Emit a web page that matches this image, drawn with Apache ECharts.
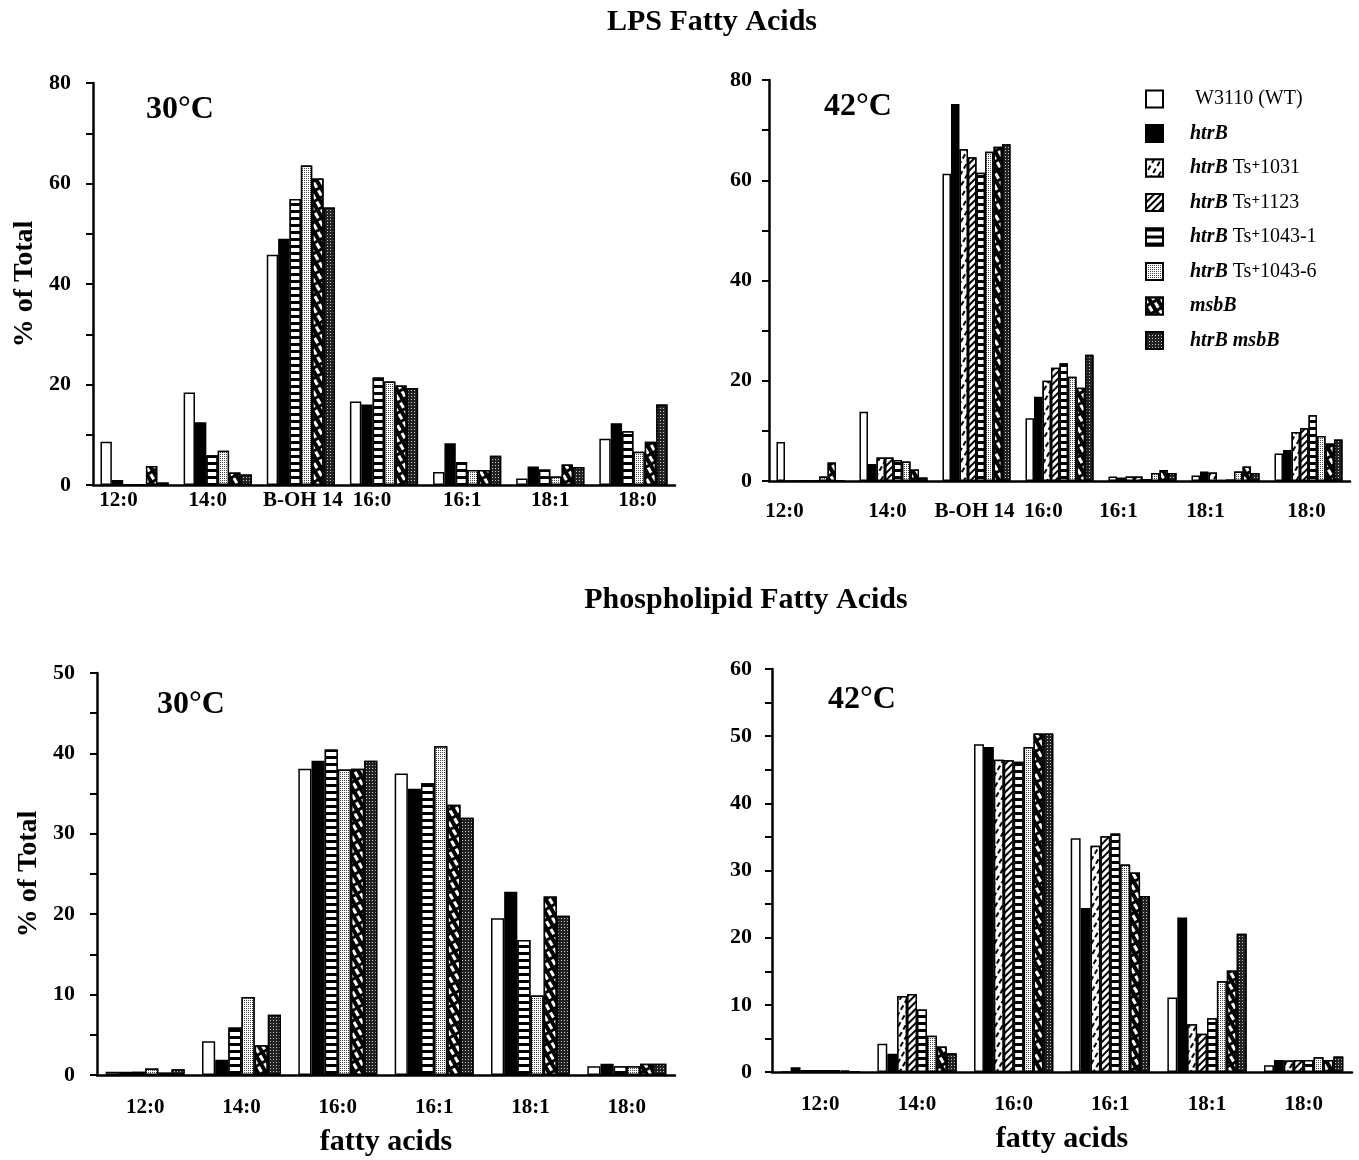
<!DOCTYPE html>
<html>
<head>
<meta charset="utf-8">
<title>LPS and Phospholipid Fatty Acids</title>
<script src="https://cdn.jsdelivr.net/npm/echarts@6/dist/echarts.min.js"></script>
<style>
  html, body { margin: 0; padding: 0; background: #fff; }
  #chart { width: 1359px; height: 1160px; }
</style>
</head>
<body>
<div id="chart"></div>
<script>
// categories
const lpsCategories = ['12:0', '14:0', 'B-OH 14', '16:0', '16:1', '18:1', '18:0']
const plCategories = ['12:0', '14:0', '16:0', '16:1', '18:1', '18:0']

// strains (legend order)
const strains = ['W3110 (WT)', 'htrB', 'htrB Ts+ 1031', 'htrB Ts+ 1123', 'htrB Ts+ 1043-1', 'htrB Ts+ 1043-6', 'msbB', 'htrB msbB']
// 30°C panels only show these strains
const strains30 = ['W3110 (WT)', 'htrB', 'htrB Ts+ 1043-1', 'htrB Ts+ 1043-6', 'msbB', 'htrB msbB']

// LPS fatty acids, 30°C (rows follow strains30)
const lps30 = [
  [8.6, 18.4, 45.8, 16.6, 2.6, 1.3, 9.2],
  [1.0, 12.5, 49.0, 16.0, 8.3, 3.7, 12.3],
  [0, 5.9, 56.9, 21.4, 4.6, 3.1, 10.7],
  [0, 6.8, 63.6, 20.6, 3.0, 1.7, 6.6],
  [3.8, 2.5, 61.0, 19.8, 3.0, 4.1, 8.6],
  [0.5, 2.1, 55.2, 19.3, 5.8, 3.6, 16.0]
]
// LPS fatty acids, 42°C (rows follow strains)
const lps42 = [
  [7.8, 13.8, 61.3, 12.5, 0.9, 1.1, 5.5],
  [0, 3.4, 75.2, 16.8, 0.7, 1.9, 6.2],
  [0, 4.7, 66.2, 20.0, 0.9, 1.7, 9.8],
  [0, 4.7, 64.6, 22.6, 0.9, 0.2, 10.5],
  [0, 4.2, 61.5, 23.5, 0.4, 0.3, 13.1],
  [0.9, 3.9, 65.7, 20.8, 1.6, 1.9, 9.0],
  [3.7, 2.3, 66.7, 18.6, 2.2, 2.9, 7.5],
  [0, 0.7, 67.2, 25.2, 1.6, 1.6, 8.3]
]
// Phospholipid fatty acids, 30°C (rows follow strains30)
const pl30 = [
  [0.4, 4.2, 38.1, 37.5, 19.5, 1.1],
  [0.4, 1.9, 39.1, 35.6, 22.8, 1.4],
  [0.4, 5.9, 40.5, 36.3, 16.8, 1.1],
  [0.8, 9.7, 38.0, 40.9, 9.9, 1.1],
  [0.3, 3.7, 38.1, 33.6, 22.2, 1.4],
  [0.7, 7.5, 39.1, 32.0, 19.8, 1.4]
]
// Phospholipid fatty acids, 42°C (rows follow strains)
const pl42 = [
  [0, 4.2, 48.8, 34.8, 11.1, 1.0],
  [0.7, 2.7, 48.4, 24.4, 23.0, 1.8],
  [0.3, 11.3, 46.5, 33.7, 7.1, 1.7],
  [0.3, 11.6, 46.4, 35.1, 5.7, 1.8],
  [0.3, 9.3, 46.2, 35.5, 8.0, 1.8],
  [0.3, 5.4, 48.4, 30.9, 13.5, 2.2],
  [0.2, 3.8, 50.4, 29.7, 15.1, 1.8],
  [0, 2.8, 50.4, 26.2, 20.6, 2.3]
]

const FONT = '"Liberation Serif", "DejaVu Serif", serif'

// 填充样式（黑白印刷图案）
const patterns = {
  'W3110 (WT)': {color: '#fff'},
  'htrB': {color: '#000'},
  'htrB Ts+ 1031': {
    color: '#fff',
    decal: {symbol: 'rect', color: '#000', backgroundColor: '#fff', dashArrayX: [[5, 3]], dashArrayY: [2, 4], rotation: -Math.PI / 3, symbolSize: 1}
  },
  'htrB Ts+ 1123': {
    color: '#fff',
    decal: {symbol: 'rect', color: '#000', backgroundColor: '#fff', dashArrayX: [[1, 0]], dashArrayY: [2, 3], rotation: -Math.PI / 4, symbolSize: 1}
  },
  'htrB Ts+ 1043-1': {
    color: '#fff',
    decal: {symbol: 'rect', color: '#000', backgroundColor: '#fff', dashArrayX: [[1, 0]], dashArrayY: [3, 4], rotation: 0, symbolSize: 1}
  },
  'htrB Ts+ 1043-6': {
    color: '#fff',
    decal: {symbol: 'rect', color: '#444', backgroundColor: '#fff', dashArrayX: [[1, 1]], dashArrayY: [1, 1], rotation: 0, symbolSize: 1}
  },
  'msbB': {
    color: '#000',
    decal: {symbol: 'rect', color: '#fff', backgroundColor: '#000', dashArrayX: [[6, 3]], dashArrayY: [3, 4], rotation: Math.PI / 3, symbolSize: 1}
  },
  'htrB msbB': {
    color: '#000',
    decal: {symbol: 'circle', color: '#fff', backgroundColor: '#222', dashArrayX: [[1, 2]], dashArrayY: [1, 2], rotation: 0, symbolSize: 1}
  }
}

// 手工排版的横轴标签偏移（像素，负数向左）
const lpsLabelShift30 = [-16, -10, 2, -12, -5, 0, 4]
const lpsLabelShift42 = [-26, -6, -2, -16, -24, -20, -2]

function legendLabel (name) {
  if (name === 'W3110 (WT)') return ' W3110 (WT)'
  if (name.indexOf('Ts+') > -1) {
    const num = name.split('Ts+ ')[1]
    return '{i|htrB} {t|Ts}{s|+}{t|' + num + '}'
  }
  return '{i|' + name + '}'
}

function makeSeries (names, rows, gridIndex) {
  return names.map((name, k) => {
    const p = patterns[name]
    return {
      name: name,
      type: 'bar',
      xAxisIndex: gridIndex,
      yAxisIndex: gridIndex,
      barGap: '0%',
      barCategoryGap: '18%',
      data: rows[k],
      itemStyle: {
        color: p.color,
        borderColor: '#000',
        borderWidth: 1.5,
        decal: p.decal
      },
      emphasis: {disabled: true}
    }
  })
}

function xAxis (gridIndex, data, margin, withName, shifts) {
  const labelFont = {color: '#000', fontFamily: FONT, fontSize: 21, fontWeight: 'bold'}
  const rich = {}
  if (shifts) {
    shifts.forEach((d, i) => {
      rich['c' + i] = Object.assign({}, labelFont, {padding: d < 0 ? [0, -2 * d, 0, 0] : [0, 0, 0, 2 * d]})
    })
  }
  return {
    type: 'category',
    gridIndex: gridIndex,
    data: data,
    axisLine: {lineStyle: {color: '#000', width: 2.5}},
    axisTick: {length: 7, lineStyle: {color: '#000', width: 2}},
    axisLabel: Object.assign({}, labelFont, {
      margin: margin,
      interval: 0,
      rich: rich,
      formatter: shifts ? (v, i) => '{c' + i + '|' + v + '}' : null
    }),
    name: withName ? 'fatty acids' : '',
    nameLocation: 'middle',
    nameGap: 52,
    nameTextStyle: {color: '#000', fontFamily: FONT, fontSize: 30, fontWeight: 'bold'}
  }
}

function yAxis (gridIndex, max, interval, labelStep, withName, margin) {
  return {
    type: 'value',
    gridIndex: gridIndex,
    min: 0,
    max: max,
    interval: interval,
    splitLine: {show: false},
    axisLine: {show: true, lineStyle: {color: '#000', width: 2.5}},
    axisTick: {show: true, length: 7, lineStyle: {color: '#000', width: 2}},
    axisLabel: {
      color: '#000', fontFamily: FONT, fontSize: 22, fontWeight: 'bold', margin: margin,
      formatter: v => (v % labelStep === 0 ? String(v) : '')
    },
    name: withName ? '% of Total' : '',
    nameLocation: 'middle',
    nameGap: 54,
    nameTextStyle: {color: '#000', fontFamily: FONT, fontSize: 28, fontWeight: 'bold'}
  }
}

function text (x, y, str, size) {
  return {
    type: 'text', x: x, y: y,
    style: {text: str, font: 'bold ' + size + 'px ' + FONT, fill: '#000', textAlign: 'center', textVerticalAlign: 'middle'}
  }
}

const chart = echarts.init(document.getElementById('chart'))
chart.setOption({
  backgroundColor: '#fff',
  animation: false,
  grid: [
    {left: 93, top: 83, width: 582, height: 402},
    {left: 769, top: 80, width: 581, height: 401},
    {left: 97, top: 673, width: 578, height: 402},
    {left: 772, top: 669, width: 580, height: 403}
  ],
  xAxis: [
    xAxis(0, lpsCategories, 5, false, lpsLabelShift30),
    xAxis(1, lpsCategories, 20, false, lpsLabelShift42),
    xAxis(2, plCategories, 22, true, null),
    xAxis(3, plCategories, 22, true, null)
  ],
  yAxis: [
    yAxis(0, 80, 10, 20, true, 22),
    yAxis(1, 80, 10, 20, false, 17),
    yAxis(2, 50, 5, 10, true, 22),
    yAxis(3, 60, 5, 10, false, 20)
  ],
  legend: {
    data: strains,
    orient: 'vertical',
    left: 1145,
    top: 89,
    padding: 0,
    itemWidth: 17,
    itemHeight: 17,
    itemGap: 14.5,
    icon: 'rect',
    selectedMode: false,
    formatter: legendLabel,
    textStyle: {
      color: '#000', fontFamily: FONT, fontSize: 20, lineHeight: 20,
      padding: [0, 0, 0, 22],
      rich: {
        i: {fontFamily: FONT, fontSize: 20, lineHeight: 20, fontStyle: 'italic', fontWeight: 'bold', color: '#000'},
        t: {fontFamily: FONT, fontSize: 20, lineHeight: 20, color: '#000'},
        s: {fontFamily: FONT, fontSize: 15, lineHeight: 20, fontWeight: 'bold', color: '#000', verticalAlign: 'top'}
      }
    }
  },
  graphic: [
    text(712, 22, 'LPS Fatty Acids', 30),
    text(746, 600, 'Phospholipid Fatty Acids', 30),
    text(180, 110, '30°C', 32),
    text(858, 107, '42°C', 32),
    text(191, 705, '30°C', 32),
    text(862, 700, '42°C', 32)
  ],
  series: [
    ...makeSeries(strains30, lps30, 0),
    ...makeSeries(strains, lps42, 1),
    ...makeSeries(strains30, pl30, 2),
    ...makeSeries(strains, pl42, 3)
  ]
})
</script>
</body>
</html>
